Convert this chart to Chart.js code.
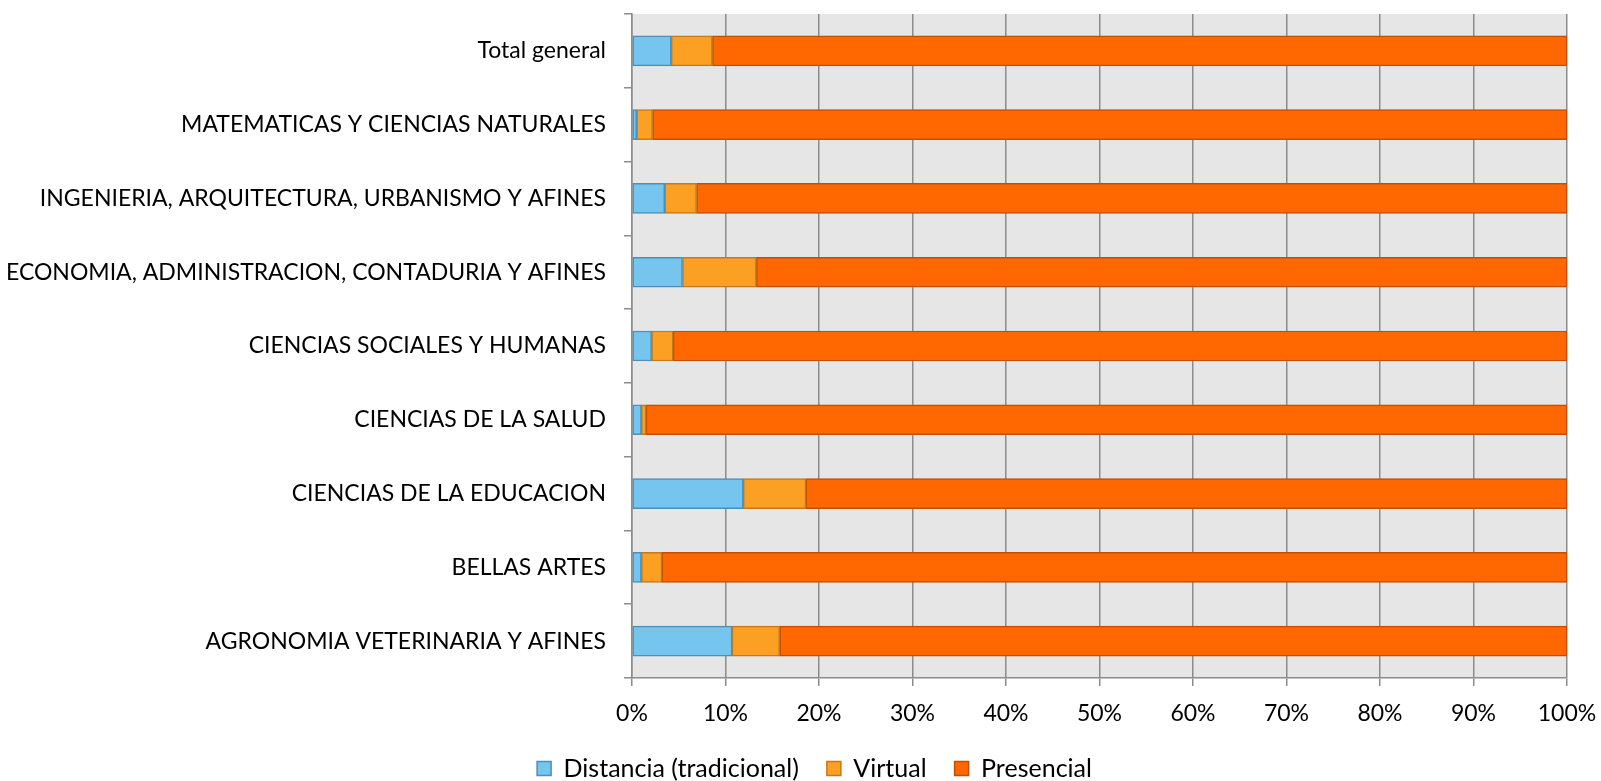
<!DOCTYPE html>
<html>
<head>
<meta charset="utf-8">
<script src="https://cdn.jsdelivr.net/npm/chart.js@4/dist/chart.umd.min.js"></script>
<style>
  html, body { margin: 0; padding: 0; background: #fff; }
  #wrap { width: 1601px; height: 781px; }
</style>
</head>
<body>
<div id="wrap"><canvas id="grafico" width="1601" height="781"></canvas></div>
<script>
// Datos (porcentaje por modalidad)
const categorias = [
  'Total general',
  'MATEMATICAS Y CIENCIAS NATURALES',
  'INGENIERIA, ARQUITECTURA, URBANISMO Y AFINES',
  'ECONOMIA, ADMINISTRACION, CONTADURIA Y AFINES',
  'CIENCIAS SOCIALES Y HUMANAS',
  'CIENCIAS DE LA SALUD',
  'CIENCIAS DE LA EDUCACION',
  'BELLAS ARTES',
  'AGRONOMIA VETERINARIA Y AFINES'
];
const distancia  = [4.2, 0.5, 3.5, 5.4, 2.1, 1.0, 11.9, 1.0, 10.7];
const virtual    = [4.4, 1.7, 3.4, 7.9, 2.3, 0.5, 6.7, 2.2, 5.1];
const presencial = [91.4, 97.8, 93.1, 86.7, 95.6, 98.5, 81.4, 96.8, 84.2];
const ticksX = [0, 10, 20, 30, 40, 50, 60, 70, 80, 90, 100];

const fuente = 'Lato, "Open Sans", sans-serif';

// fondo gris del área de trazado + ajustes de la leyenda (alto fijo, corrida a la derecha)
const fondoPlot = {
  id: 'fondoPlot',
  beforeUpdate(chart) {
    const lg = chart.legend;
    if (lg && !lg._ajustada) {
      const fitOrig = lg.fit.bind(lg);
      const drawOrig = lg.draw.bind(lg);
      lg.fit = function () { fitOrig(); this.height = 53; };
      lg.draw = function () {
        const c = this.ctx;
        c.save();
        c.translate(31, 0);
        drawOrig();
        c.restore();
      };
      lg._ajustada = true;
    }
  },
  beforeDraw(chart) {
    const a = chart.chartArea, c = chart.ctx;
    c.save();
    c.fillStyle = '#e6e6e6';
    c.fillRect(a.left, a.top, a.right - a.left, a.bottom - a.top);
    c.restore();
  }
};

const ctx = document.getElementById('grafico').getContext('2d');
new Chart(ctx, {
  type: 'bar',
  data: {
    labels: categorias,
    datasets: [
      { label: 'Distancia (tradicional)', data: distancia, backgroundColor: '#75c5ee', borderColor: '#4d8fb8', borderWidth: 1.5 },
      { label: 'Virtual', data: virtual, backgroundColor: '#fca024', borderColor: '#c47a1c', borderWidth: 1.5 },
      { label: 'Presencial', data: presencial, backgroundColor: '#ff6800', borderColor: '#c24f00', borderWidth: 1.5 }
    ]
  },
  options: {
    indexAxis: 'y',
    responsive: false,
    animation: false,
    layout: { padding: { top: 14, right: 34, bottom: 0, left: 0 } },
    datasets: { bar: { barThickness: 30, borderSkipped: false } },
    plugins: {
      legend: {
        position: 'bottom',
        labels: {
          font: { family: fuente, size: 25 },
          color: '#000',
          boxWidth: 14,
          boxHeight: 14,
          padding: 28
        }
      },
      tooltip: { enabled: false }
    },
    scales: {
      x: {
        stacked: true,
        min: 0,
        max: 100,
        afterBuildTicks(axis) { axis.ticks = ticksX.map(v => ({ value: v })); },
        afterFit(axis) { axis.height = 50; axis.paddingLeft = 0; axis.paddingRight = 0; },
        ticks: {
          callback: v => v + '%',
          font: { family: fuente, size: 23 },
          color: '#000',
          padding: 14,
          maxRotation: 0
        },
        grid: { color: '#8c8c8c', lineWidth: 1.5, tickLength: 8 },
        border: { color: '#8c8c8c', width: 1.5 }
      },
      y: {
        stacked: true,
        afterFit(axis) { axis.width = 632; axis.paddingTop = 0; axis.paddingBottom = 0; },
        ticks: {
          font: { family: fuente, size: 23 },
          color: '#000',
          padding: 18
        },
        grid: { drawOnChartArea: false, color: '#8c8c8c', lineWidth: 1.5, tickLength: 8, offset: true },
        border: { color: '#8c8c8c', width: 1.5 }
      }
    }
  },
  plugins: [fondoPlot]
});
</script>
</body>
</html>
